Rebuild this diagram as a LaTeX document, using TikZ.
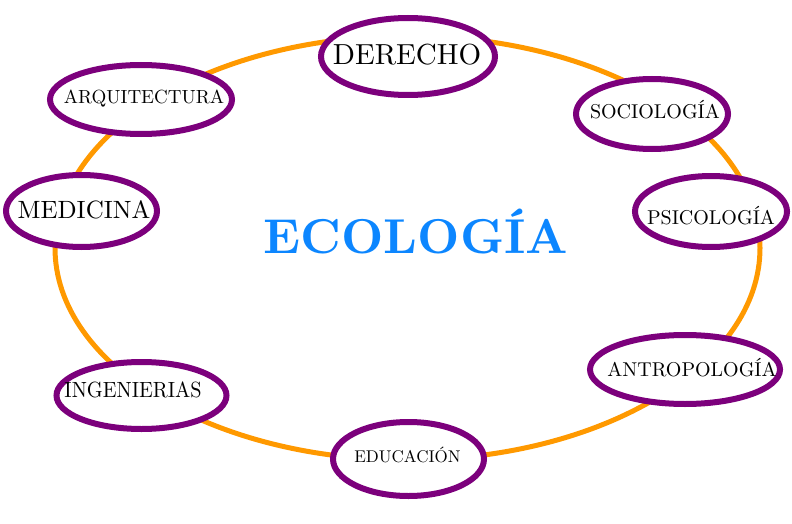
\documentclass[tikz,border=0pt]{standalone}
\usepackage{fontspec}
\setmainfont{lmroman10-regular.otf}[BoldFont=lmroman10-bold.otf]
\usetikzlibrary{shapes.geometric}
\definecolor{ringorange}{RGB}{255,153,0}
\definecolor{bubblepurple}{RGB}{124,0,124}
\definecolor{ecoblue}{RGB}{12,134,255}
\tikzset{
  bubble/.style={ellipse, draw=bubblepurple, line width=6pt, fill=white, inner sep=0pt},
  lbl/.style={inner sep=0pt, text=black},
  ring/.style={draw=ringorange, line width=5pt}
}
\newcommand{\fs}[1]{\fontsize{#1}{#1}\selectfont}
\begin{document}
\begin{tikzpicture}[x=1pt,y=-1pt]
\useasboundingbox (0,0) rectangle (792,524);
% orange ring
\draw[ring] (407.5,248) ellipse [x radius=352.5, y radius=212];
% bubbles
\node[bubble, minimum width=174pt, minimum height=77pt] (der) at (408,56.5) {};
\node[bubble, minimum width=182pt, minimum height=69pt] (arq) at (141,99.5) {};
\node[bubble, minimum width=152pt, minimum height=70pt] (soc) at (652,114) {};
\node[bubble, minimum width=151pt, minimum height=72pt] (med) at (81.5,211) {};
\node[bubble, minimum width=152pt, minimum height=71pt] (psi) at (711,211.5) {};
\node[bubble, minimum width=190pt, minimum height=69pt] (ant) at (685,369.5) {};
\node[bubble, minimum width=170pt, minimum height=67pt] (ing) at (141.5,395.5) {};
\node[bubble, minimum width=151pt, minimum height=74pt] (edu) at (408.5,459) {};
% labels
\node[lbl, anchor=base] (tder) at (407,65) {\fs{29}DERECHO};
\node[lbl, anchor=base] (tarq) at (144,104) {\fs{19}ARQUITECTURA};
\node[lbl, anchor=base] (tsoc) at (655,119) {\fs{20}SOCIOLOGÍA};
\node[lbl, anchor=base] (tmed) at (84,218) {\fs{25}MEDICINA};
\node[lbl, anchor=base] (tpsi) at (711,224) {\fs{20}PSICOLOGÍA};
\node[lbl, anchor=base] (tant) at (692,376) {\fs{20}ANTROPOLOGÍA};
\node[lbl, anchor=base, xscale=0.92] (ting) at (133,397) {\fs{22}INGENIERIAS};
\node[lbl, anchor=base] (tedu) at (407.5,462) {\fs{17}EDUCACIÓN};
\node[lbl, anchor=base, text=ecoblue] (eco) at (416,253) {\fs{49}\bfseries ECOLOGÍA};
\end{tikzpicture}
\end{document}
